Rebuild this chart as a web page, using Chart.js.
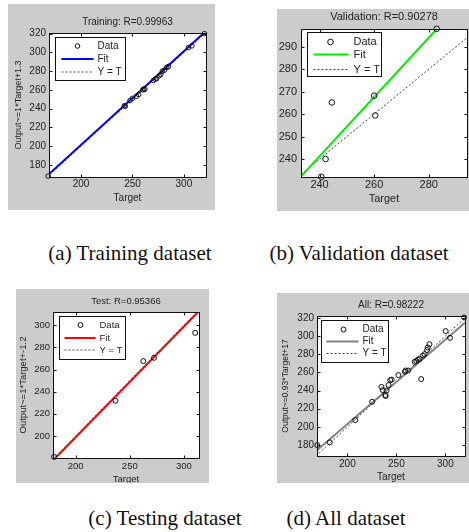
<!DOCTYPE html>
<html>
<head>
<meta charset="utf-8">
<script src="https://cdn.jsdelivr.net/npm/chart.js@4.4.0/dist/chart.umd.min.js"></script>
<style>
  html, body { margin: 0; padding: 0; background: #fff; }
  body { width: 469px; height: 532px; overflow: hidden; position: relative; }
  .panel { position: absolute; background: #cccccc; overflow: hidden; }
  .panel canvas { position: absolute; left: 0; top: 0; }
  .cap { position: absolute; font-family: "Liberation Serif", "Times New Roman", serif; font-size: 21px;
         color: #111; white-space: nowrap; transform: translate(-50%, -50%); line-height: 1; }
</style>
</head>
<body>
<div class="panel" style="left:8px;top:4px;width:207px;height:206px"><canvas id="cTrain" width="207" height="206"></canvas></div>
<div class="panel" style="left:277px;top:9px;width:192px;height:202px"><canvas id="cVal" width="195" height="202"></canvas></div>
<div class="panel" style="left:16px;top:289px;width:193px;height:194px"><canvas id="cTest" width="193" height="200"></canvas></div>
<div class="panel" style="left:277px;top:293px;width:192px;height:190px"><canvas id="cAll" width="193" height="190"></canvas></div>

<div class="cap" style="left:130px;top:253px">(a) Training dataset</div>
<div class="cap" style="left:359px;top:253px">(b) Validation dataset</div>
<div class="cap" style="left:165px;top:518px">(c) Testing dataset</div>
<div class="cap" style="left:346px;top:518px">(d) All dataset</div>

<script>
// training
const trainTarget = [168, 242, 243, 247.6, 250, 254, 256, 260, 261, 262, 270.3, 272, 273.5, 276, 277.5, 279, 281, 283.3, 285, 304.5, 307.8, 320];
const trainOutput = [168, 243, 242.5, 248.6, 251, 253.2, 255, 260, 261, 260.5, 270, 271.5, 272, 275, 276.4, 279.9, 281, 284, 285, 305.3, 307, 320];
const trainFitX = [168.8, 321.5];
const trainFitY = [170.1, 322.8];
const trainXLim = [168.8, 321.5];
const trainYLim = [167, 320.7];
const trainXTicks = [200, 250, 300];
const trainYTicks = [180, 200, 220, 240, 260, 280, 300, 320];

// validation
const valTarget = [240.6, 242.2, 244.5, 260, 260.4, 282.9];
const valOutput = [232.1, 240, 265.2, 268.2, 259.4, 298];
const valFitX = [233, 283];
const valFitY = [232, 298];
const valXLim = [233.2, 294];
const valYLim = [232, 297.9];
const valXTicks = [240, 260, 280];
const valYTicks = [240, 250, 260, 270, 280, 290];

// test
const testTarget = [180, 236.8, 262.5, 272.4, 310.5];
const testOutput = [181, 231.7, 267.6, 270.6, 293.1];
const testFitX = [179, 314];
const testFitY = [177.8, 312.8];
const testXLim = [179, 314];
const testYLim = [180, 312];
const testXTicks = [200, 250, 300];
const testYTicks = [200, 220, 240, 260, 280, 300];

// all
const allTarget = [169.3, 182, 208, 225.3, 234.7, 236, 238.7, 239, 240, 242, 243.7, 245.3, 252, 258.7, 259.3, 262, 268.7, 270.3, 272, 273.7, 275.3, 277, 278.7, 281.3, 282, 283.7, 300.3, 304.7, 319];
const allOutput = [180, 183, 207.5, 227.6, 244, 240.5, 235, 234, 240, 246, 251.5, 252, 257, 260.6, 262, 262, 271.6, 272.5, 274, 275, 252.6, 278.4, 280, 284.6, 287.4, 291, 305.4, 298, 320.4];
const allFitX = [169, 320];
const allFitY = [174.2, 314.6];
const allXLim = [169, 320];
const allYLim = [168, 322];
const allXTicks = [200, 250, 300];
const allYTicks = [180, 200, 220, 240, 260, 280, 300, 320];

const FONT = '"Liberation Sans", Arial, sans-serif';
const INK = '#222';

// white plot box, inward ticks on all sides, boxed legend inside the axes
const matlabBox = {
  id: 'matlabBox',
  beforeDraw(chart) {
    const { ctx, chartArea: a } = chart;
    ctx.save();
    ctx.fillStyle = '#fff';
    ctx.fillRect(a.left, a.top, a.width, a.height);
    ctx.restore();
  },
  afterDraw(chart, args, opts) {
    const { ctx, chartArea: a, scales: { x, y } } = chart;
    const L = Math.round(a.left) + 0.5, T = Math.round(a.top) + 0.5;
    const R = Math.round(a.right) + 0.5, B = Math.round(a.bottom) + 0.5;
    ctx.save();
    ctx.strokeStyle = '#111';
    ctx.lineWidth = 1;
    ctx.strokeRect(L, T, R - L, B - T);
    ctx.beginPath();
    x.ticks.forEach(t => {
      const px = Math.round(x.getPixelForValue(t.value)) + 0.5;
      ctx.moveTo(px, B); ctx.lineTo(px, B - 3);
      ctx.moveTo(px, T); ctx.lineTo(px, T + 3);
    });
    y.ticks.forEach(t => {
      const py = Math.round(y.getPixelForValue(t.value)) + 0.5;
      ctx.moveTo(L, py); ctx.lineTo(L + 3, py);
      ctx.moveTo(R, py); ctx.lineTo(R - 3, py);
    });
    ctx.stroke();

    // legend
    const g = opts.legend;
    const bx = Math.round(a.left + g.x) + 0.5, by = Math.round(a.top + g.y) + 0.5;
    ctx.fillStyle = '#fff';
    ctx.fillRect(bx, by, g.w, g.h);
    ctx.strokeStyle = '#111';
    ctx.strokeRect(bx, by, g.w, g.h);
    ctx.font = g.size + 'px ' + FONT;
    ctx.textBaseline = 'middle';
    ctx.textAlign = 'left';
    chart.data.datasets.forEach((ds, i) => {
      const ry = by + g.rows[i];
      ctx.save();
      if (!ds.showLine) {
        ctx.strokeStyle = ds.borderColor;
        ctx.lineWidth = 1;
        ctx.beginPath();
        ctx.arc(bx + g.mark, ry, ds.pointRadius, 0, Math.PI * 2);
        ctx.stroke();
      } else {
        ctx.strokeStyle = ds.borderColor;
        ctx.lineWidth = ds.borderWidth;
        ctx.setLineDash(ds.borderDash || []);
        ctx.beginPath();
        ctx.moveTo(bx + g.l0, ry);
        ctx.lineTo(bx + g.l1, ry);
        ctx.stroke();
      }
      ctx.restore();
      ctx.fillStyle = INK;
      ctx.fillText(ds.label, bx + g.tx, ry);
    });
    ctx.restore();
  }
};

function regressionPlot(id, p) {
  const lo = Math.min(p.xLim[0], p.yLim[0]);
  const hi = Math.max(p.xLim[1], p.yLim[1]);
  const f = { family: FONT, size: p.fs };
  return new Chart(document.getElementById(id), {
    type: 'scatter',
    data: {
      datasets: [
        {
          label: 'Data',
          data: p.target.map((t, i) => ({ x: t, y: p.output[i] })),
          pointStyle: 'circle',
          pointRadius: p.r,
          borderColor: '#111',
          borderWidth: 1,
          backgroundColor: 'rgba(0,0,0,0)',
          clip: false
        },
        {
          label: 'Fit',
          data: p.fitX.map((t, i) => ({ x: t, y: p.fitY[i] })),
          showLine: true,
          pointRadius: 0,
          borderColor: p.fitColor,
          borderWidth: 2
        },
        {
          label: 'Y = T',
          data: [{ x: lo, y: lo }, { x: hi, y: hi }],
          showLine: true,
          pointRadius: 0,
          borderColor: '#444',
          borderWidth: 1,
          borderDash: [2, 2]
        }
      ]
    },
    options: {
      responsive: false,
      animation: false,
      events: [],
      layout: { padding: { left: 0, top: 0, right: p.rp, bottom: 0 } },
      scales: {
        x: {
          type: 'linear',
          min: p.xLim[0],
          max: p.xLim[1],
          grid: { display: false, drawTicks: false },
          border: { display: false },
          ticks: { font: f, color: INK, padding: p.xtp, maxRotation: 0, autoSkip: false },
          afterBuildTicks: s => { s.ticks = p.xTicks.map(v => ({ value: v })); },
          afterFit: s => { s.height = p.xh; },
          title: { display: true, text: 'Target', font: f, color: INK, padding: { top: 0, bottom: p.xttp } }
        },
        y: {
          type: 'linear',
          min: p.yLim[0],
          max: p.yLim[1],
          grid: { display: false, drawTicks: false },
          border: { display: false },
          ticks: { font: f, color: INK, padding: p.ytp, autoSkip: false },
          afterBuildTicks: s => { s.ticks = p.yTicks.map(v => ({ value: v })); },
          afterFit: s => { s.width = p.yw; },
          title: {
            display: !!p.ylabel, text: p.ylabel || '', color: INK,
            font: { family: FONT, size: p.yfs }, padding: { top: p.yttp, bottom: 0 }
          }
        }
      },
      plugins: {
        legend: { display: false },
        tooltip: { enabled: false },
        title: {
          display: true, text: p.title, fullSize: false, color: INK,
          font: { family: FONT, size: p.fs, weight: 'normal' },
          padding: { top: p.tt, bottom: p.tb }
        },
        matlabBox: { legend: p.legend }
      }
    },
    plugins: [matlabBox]
  });
}

regressionPlot('cTrain', {
  target: trainTarget, output: trainOutput, fitX: trainFitX, fitY: trainFitY,
  xLim: trainXLim, yLim: trainYLim, xTicks: trainXTicks, yTicks: trainYTicks,
  title: 'Training: R=0.99963', ylabel: 'Output~=1*Target+1.3', fitColor: '#0000ff',
  fs: 10, yfs: 9, r: 2.3, rp: 9, xh: 33, yw: 41, xtp: 1, xttp: 6, ytp: 3, yttp: 5, tt: 12, tb: 5,
  legend: { x: 6, y: 4, w: 70, h: 43, rows: [8.5, 21.5, 34.5], mark: 22, l0: 6, l1: 38, tx: 42, size: 10 }
});

regressionPlot('cVal', {
  target: valTarget, output: valOutput, fitX: valFitX, fitY: valFitY,
  xLim: valXLim, yLim: valYLim, xTicks: valXTicks, yTicks: valYTicks,
  title: 'Validation: R=0.90278', ylabel: '', fitColor: '#00ee00',
  fs: 11, yfs: 11, r: 2.8, rp: 2, xh: 34, yw: 24, xtp: 1, xttp: 5, ytp: 4, yttp: 0, tt: 1.5, tb: 5.3,
  legend: { x: 6, y: 3, w: 74, h: 44, rows: [9.5, 22, 37], mark: 23, l0: 6, l1: 41, tx: 46, size: 11 }
});

regressionPlot('cTest', {
  target: testTarget, output: testOutput, fitX: testFitX, fitY: testFitY,
  xLim: testXLim, yLim: testYLim, xTicks: testXTicks, yTicks: testYTicks,
  title: 'Test: R=0.95366', ylabel: 'Output~=1*Target+-1.2', fitColor: '#ff0000',
  fs: 9.5, yfs: 9.5, r: 2.5, rp: 10, xh: 31, yw: 37, xtp: 3, xttp: 4, ytp: 3, yttp: 1.5, tt: 7, tb: 4.6,
  legend: { x: 6, y: 4, w: 66, h: 43, rows: [8.5, 21.5, 33.5], mark: 21, l0: 5, l1: 36, tx: 40, size: 9.5 }
});

regressionPlot('cAll', {
  target: allTarget, output: allOutput, fitX: allFitX, fitY: allFitY,
  xLim: allXLim, yLim: allYLim, xTicks: allXTicks, yTicks: allYTicks,
  title: 'All: R=0.98222', ylabel: 'Output~=0.93*Target+17', fitColor: '#808080',
  fs: 10, yfs: 8.5, r: 2.5, rp: 2, xh: 27, yw: 40, xtp: 2, xttp: 0, ytp: 3, yttp: 3.5, tt: 6, tb: 5,
  legend: { x: 4, y: 4, w: 67, h: 42, rows: [9, 21, 33], mark: 22, l0: 5, l1: 37, tx: 41, size: 10 }
});
</script>
</body>
</html>
